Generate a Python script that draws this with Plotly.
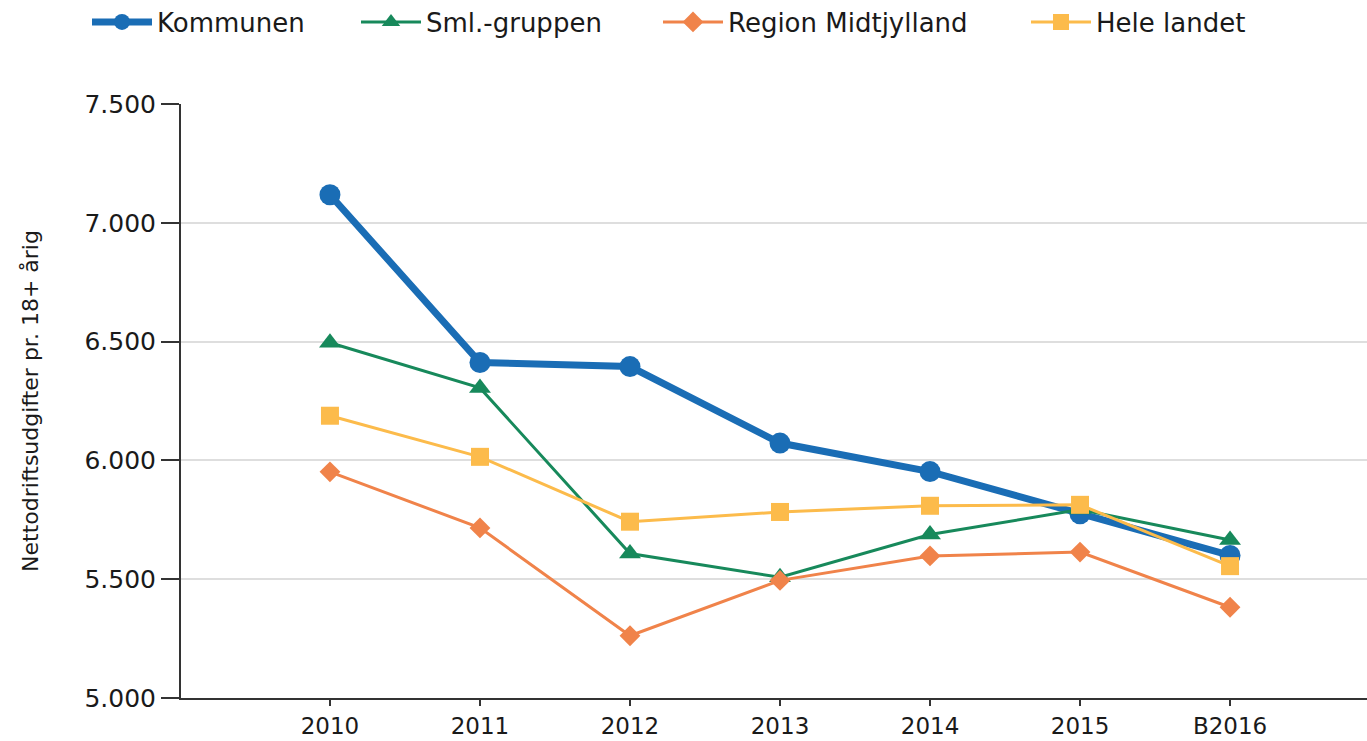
import plotly.graph_objects as go

categories = ["2010", "2011", "2012", "2013", "2014", "2015", "B2016"]
kommunen = [7118, 6412, 6395, 6073, 5953, 5775, 5600]
sml_gruppen = [6495, 6305, 5608, 5508, 5688, 5793, 5665]
region_midtjylland = [5952, 5716, 5262, 5495, 5598, 5614, 5382]
hele_landet = [6188, 6015, 5742, 5783, 5809, 5813, 5555]

series_names = ["Kommunen", "Sml.-gruppen", "Region Midtjylland", "Hele landet"]
series_values = [kommunen, sml_gruppen, region_midtjylland, hele_landet]
colors = ["#1a6db5", "#17895b", "#f0834a", "#fcbb4b"]
symbols = ["circle", "triangle-up", "diamond", "square"]
marker_sizes = [21, 19, 16, 18]
line_widths = [7, 3, 3, 3]
legend_ids = ["legend", "legend2", "legend3", "legend4"]
legend_x_px = [87, 356, 658, 1026]

W, H = 1367, 741
FONT = "Verdana, DejaVu Sans, sans-serif"

fig = go.Figure()
for name, vals, col, sym, ms, lw, lg in zip(series_names, series_values, colors,
                                             symbols, marker_sizes, line_widths, legend_ids):
    fig.add_trace(go.Scatter(
        x=categories, y=vals, name=name, mode="lines+markers",
        line=dict(color=col, width=lw),
        marker=dict(symbol=sym, size=ms, color=col),
        legend=lg,
    ))

layout_legends = {}
for lg, xp in zip(legend_ids, legend_x_px):
    layout_legends[lg] = dict(
        x=xp / W, xref="container", xanchor="left",
        y=1 - 22 / H, yref="container", yanchor="middle",
        orientation="h", itemwidth=60,
        font=dict(family=FONT, size=26, color="#1a1a1a"),
        bgcolor="rgba(0,0,0,0)", borderwidth=0,
    )

fig.update_layout(
    width=W, height=H,
    margin=dict(l=181, r=0, t=104, b=43),
    paper_bgcolor="white", plot_bgcolor="white",
    separators=",.",
    font=dict(family=FONT, color="#1a1a1a"),
    showlegend=True,
    **layout_legends,
)

fig.update_xaxes(
    type="category", range=[-0.993, 6.913], automargin=False,
    showline=True, linecolor="#333333", linewidth=2,
    ticks="outside", ticklen=6, tickcolor="#333333", tickwidth=2,
    showgrid=False, zeroline=False,
    tickfont=dict(family=FONT, size=23, color="#1a1a1a"),
)
fig.update_yaxes(
    range=[5000, 7500], dtick=500, tick0=5000, tickformat=",.0f", automargin=False,
    showline=True, linecolor="#333333", linewidth=2,
    ticks="outside", ticklen=18, tickcolor="#333333", tickwidth=2,
    showgrid=True, gridcolor="#dedede", gridwidth=1.5, zeroline=False,
    tickfont=dict(family=FONT, size=25, color="#1a1a1a"),
    title=dict(text="Nettodriftsudgifter pr. 18+ årig",
               font=dict(family=FONT, size=22, color="#1a1a1a"), standoff=40),
)

fig.write_html(
    "out.html",
    config={"displayModeBar": False},
    post_script="document.body.style.margin='0';document.body.style.overflow='hidden';",
)
